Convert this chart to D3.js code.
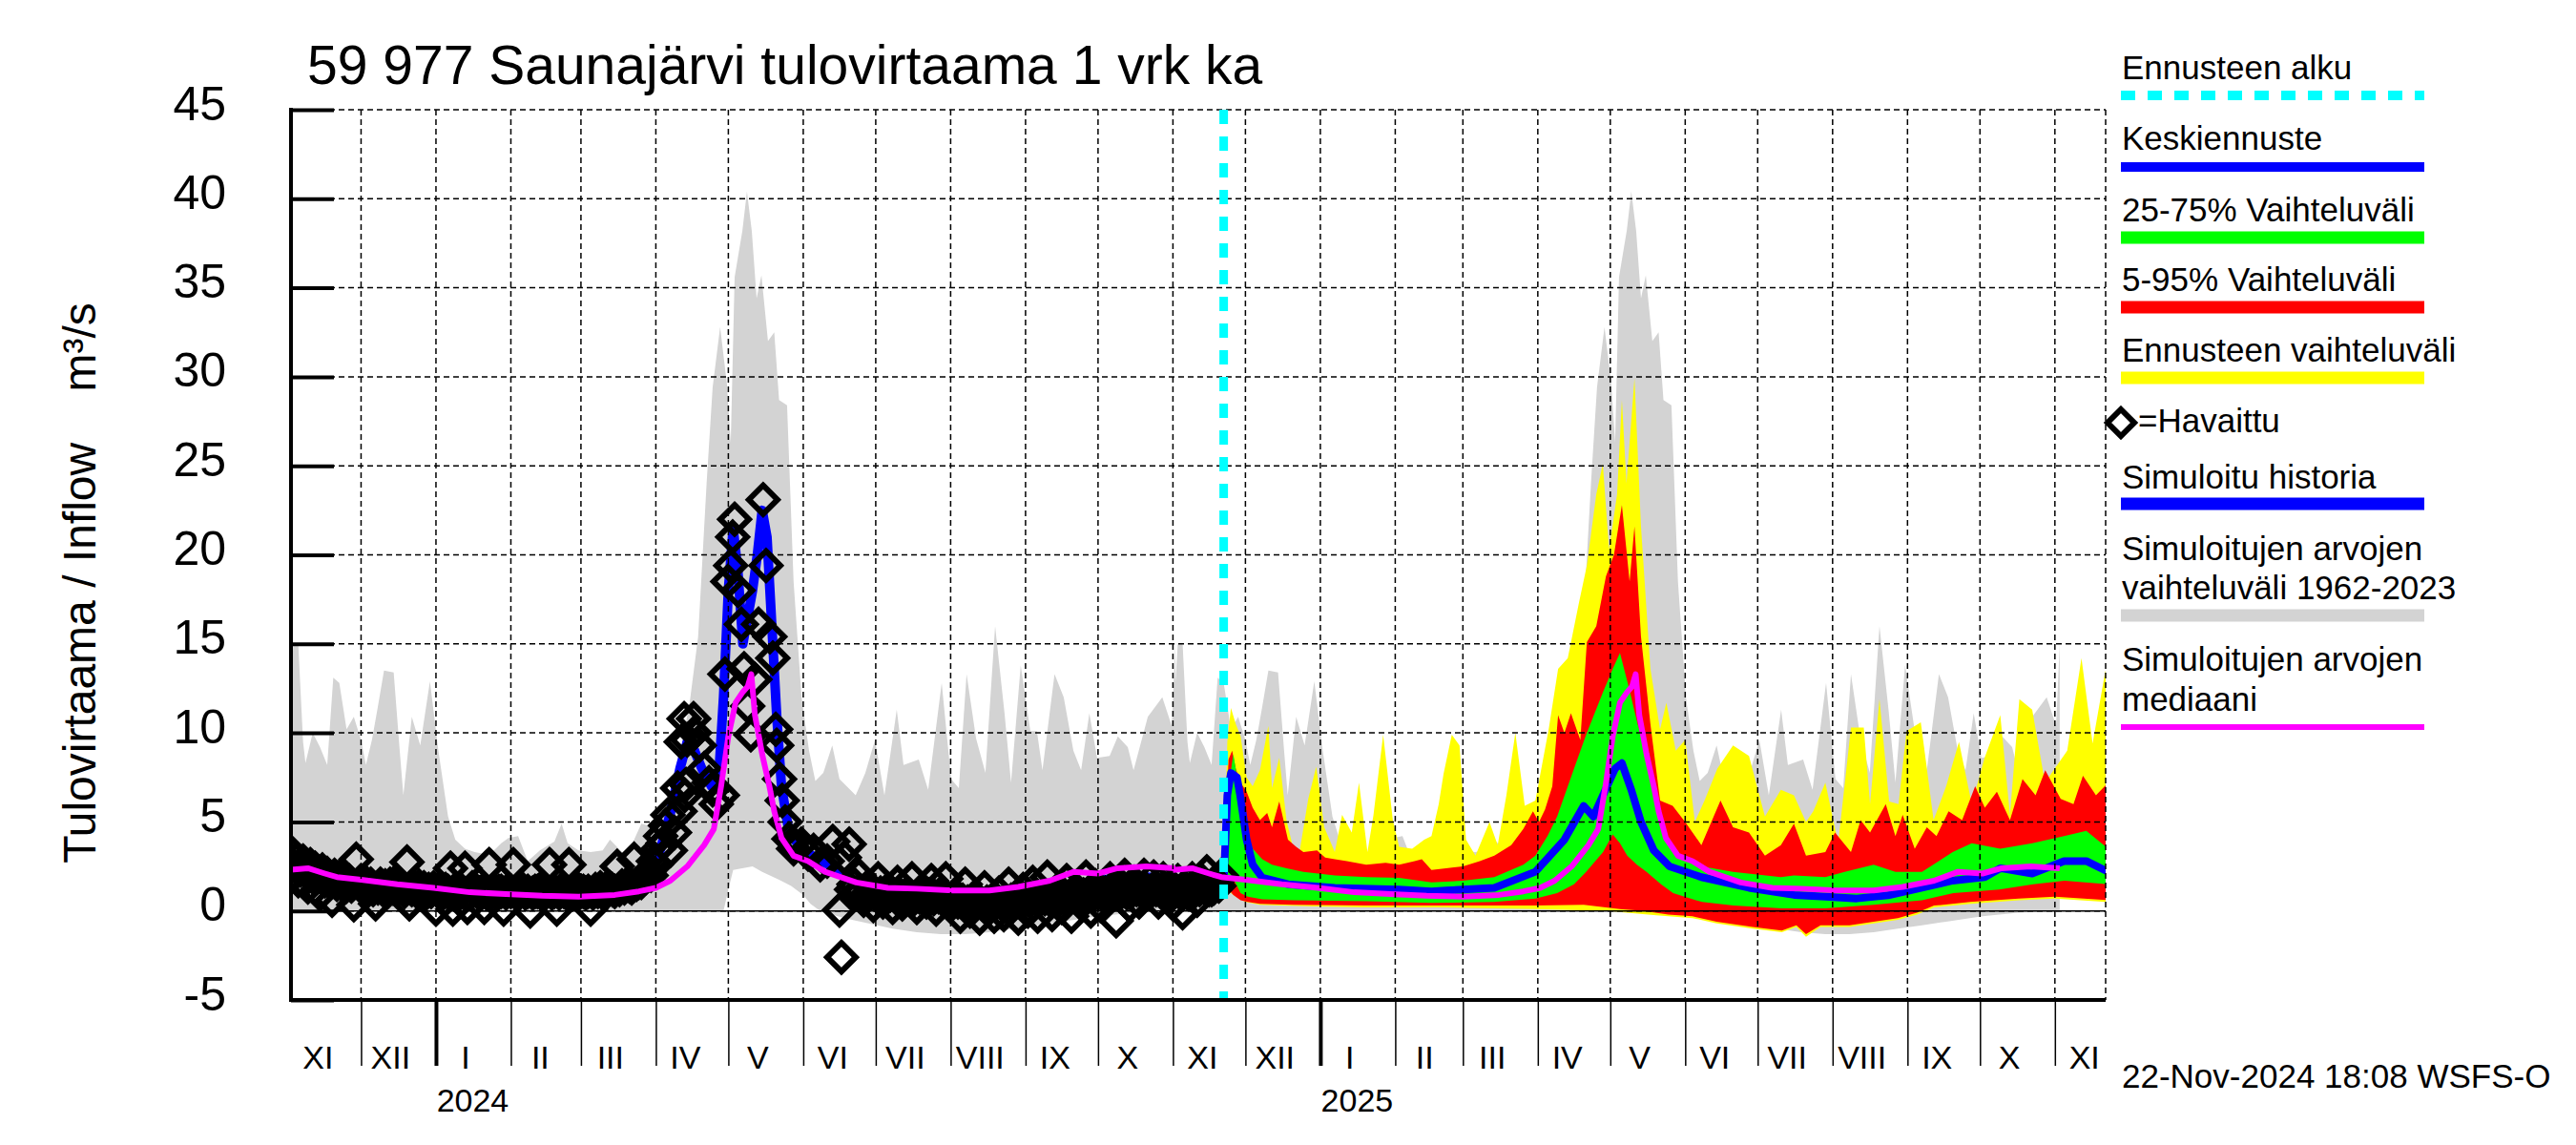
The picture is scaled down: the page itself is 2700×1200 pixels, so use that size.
<!DOCTYPE html>
<html><head><meta charset="utf-8">
<script src="https://cdn.jsdelivr.net/npm/d3@7"></script>
<style>
body{margin:0;background:#fff}
svg{display:block}
text{font-family:"Liberation Sans",Arial,Helvetica,sans-serif;fill:#000}
</style>
</head><body>
<svg id="c" width="2700" height="1200"></svg>
<script>
// ---------------- DATA ----------------
// Climatology (simulated 1962-2023), [day offset from 1 Nov, value], repeated each year
const climMax = [[0,10.5],[2,15],[4,15],[6,9.5],[7,8.3],[10,10.0],[13,9.2],[16,8.2],[18.5,13.1],[21,12.8],[24,10.2],[27,10.9],[30,9.6],[32,8.2],[34.5,9.6],[37,11.5],[39.5,13.5],[43.5,13.4],[46,9],[47.5,6.5],[51,10.9],[54.5,9.3],[58.5,12.9],[62,9.0],[66,5.3],[69,4.0],[73,3.5],[77,3.3],[81,3.2],[85,3.4],[88,3.8],[91,4.1],[95,4.2],[99,2.8],[104,3.4],[110,3.9],[113,4.9],[115.5,3.8],[120,3.4],[125,3.3],[130,3.4],[133,4.0],[138,3.3],[141,3.4],[146,4.9],[149,4.8],[153,4.7],[157,6.2],[162,8.8],[166,11.7],[169.5,15.4],[173,24.0],[175.5,29.4],[178.6,32.8],[181.4,29.6],[183,26.3],[184.6,35.6],[187.8,38.2],[189.7,40.4],[191.7,38.2],[193.7,34.4],[195.7,35.7],[198.4,32.0],[201,32.5],[203,28.7],[206.3,28.4],[209,18.5],[212.3,12.0],[215.4,9.0],[218,7.3],[221.3,7.75],[225,9.3],[228,7.4],[234.7,6.5],[238.7,7.75],[242.7,9.6],[246.6,6.5],[251.7,11.3],[254.5,8.2],[260.8,8.5],[264.7,6.8],[270.3,12.8],[274.2,7.4],[277.4,6.9],[280.6,13.3],[284.5,9.7],[288.4,7.75],[292.4,16.0],[296.3,11.1],[299,7.2],[303,13.8],[307,10.1],[309.7,10.1],[312,7.9],[317,13.3],[320.8,12.0],[324.8,9.0],[328,7.9],[331.4,11.1],[334.6,8.6],[339.8,8.7],[343.2,9.8],[347.3,9.2],[349.7,7.9],[355.6,10.9],[361.6,12.0],[365.5,10.4],[367,15]];
const climMin = [[0,0],[180,0],[182,1.2],[184,2.3],[192,2.5],[196,2.2],[203,1.75],[208,1.4],[213,0.9],[216,0.4],[220,0],[230,-0.4],[240,-0.7],[250,-1.0],[260,-1.2],[270,-1.3],[280,-1.3],[290,-1.2],[300,-1.0],[310,-0.8],[320,-0.6],[335,-0.3],[350,-0.1],[367,0]];
const climMed = [[0,2.3],[8,2.4],[15,2.1],[20,1.9],[30,1.75],[45,1.5],[60,1.3],[75,1.05],[90,0.95],[105,0.85],[120,0.8],[135,0.9],[145,1.1],[152,1.3],[158,1.7],[165,2.5],[172,3.7],[176,4.6],[179,7.0],[182,9.8],[185,11.7],[188,12.3],[190,12.6],[191.5,13.3],[193,11.0],[196,8.8],[199,7.0],[201,5.6],[204,4.1],[209,3.1],[215,2.8],[222,2.2],[235,1.6],[248,1.3],[260,1.25],[275,1.15],[290,1.15],[302,1.35],[315,1.7],[325,2.2],[335,2.1],[343,2.4],[355,2.5],[367,2.4]];

// Simulated history, [day offset from 1 Nov 2023, value]
const simHist = [[1,2.8],[10,2.2],[20,1.9],[30,1.7],[45,1.5],[60,1.4],[75,1.3],[90,1.2],[105,1.2],[120,1.2],[135,1.4],[145,1.8],[150,2.3],[154,3.5],[158,5.5],[162,8],[165,9.5],[168,9.0],[171,8.0],[175,7.0],[178,7.5],[180,12],[182,18],[184,21.5],[186,19],[188,15],[190,16.5],[192,18],[194,20],[196,22.5],[198,21],[200,16],[202,11],[204,7],[207,4.5],[212,3.5],[218,3.0],[225,2.5],[235,1.5],[245,1.0],[255,0.8],[265,0.7],[275,0.8],[290,0.9],[300,1.1],[320,1.4],[340,1.8],[355,1.9],[366,1.8],[375,1.7],[382,1.8],[386,2.0]];

// Observed, [day offset from 1 Nov 2023, value]
const observed = [[1,3.3],[2,2.0],[3,2.9],[4,1.7],[6,2.8],[8,1.35],[9,2.6],[11,2.4],[13,0.95],[14,2.3],[16,2.1],[18,0.6],[19,2.0],[21,1.9],[23,1.8],[25,1.7],[27,0.35],[28,2.9],[30,1.7],[32,1.6],[34,1.5],[36,0.4],[38,1.5],[40,1.4],[42,1.5],[44,1.6],[46,1.4],[49,2.75],[50,0.4],[52,1.3],[54,1.4],[56,1.3],[58,1.2],[61,0.1],[63,1.3],[65,1.2],[67,2.4],[68,0.1],[70,1.2],[73,2.4],[74,0.2],[76,1.3],[78,1.1],[81,0.2],[83,2.6],[85,1.2],[87,1.1],[89,0.1],[91,1.2],[93,2.6],[95,1.1],[97,1.2],[100,0.0],[102,1.1],[104,1.2],[106,1.1],[108,2.6],[111,0.1],[113,1.2],[116,2.6],[118,1.1],[120,1.2],[122,1.1],[125,0.1],[127,1.2],[129,1.3],[131,1.2],[133,1.3],[136,2.5],[138,1.4],[140,1.5],[143,2.9],[145,1.6],[147,1.8],[149,2.2],[151,2.8],[153,3.5],[154,4.2],[156,4.8],[157,5.4],[158,3.4],[159.7,4.4],[161,6.9],[162,5.6],[162.5,9.5],[163.7,10.8],[164,6.5],[164.5,7.1],[165,9.6],[167.6,10.8],[168,10.0],[170,9.3],[172,8.0],[174,7.2],[175.5,6.8],[177,6.0],[179.5,6.5],[180.6,13.3],[181.8,18.5],[183,19.4],[183.8,21.0],[184.6,22.0],[186,18.0],[187.4,16.1],[188.5,13.6],[190,11.5],[191.3,9.9],[193,13.0],[194.5,16.1],[196.4,23.1],[197.6,19.4],[199.2,15.4],[200.4,14.2],[201.6,10.2],[202,9.3],[203.2,7.4],[204.3,6.2],[205.5,5.0],[207.1,4.05],[209,3.5],[212.2,3.75],[215,3.2],[217.3,3.4],[220,2.6],[222.9,2.8],[225.2,3.9],[228,0.05],[228.8,-2.6],[230,3.0],[232,3.75],[234,1.5],[236,2.0],[238,0.6],[240,1.4],[242,0.3],[244,1.8],[246,0.5],[248,1.2],[250,0.2],[252,1.6],[254,0.4],[256,1.0],[258,1.8],[260,0.2],[262,1.1],[264,0.5],[266,1.7],[268,0.1],[270,1.0],[272,1.8],[274,0.3],[276,0.9],[278,-0.3],[280,1.5],[282,0.0],[284,0.8],[286,-0.4],[288,1.3],[290,0.2],[292,-0.3],[294,1.0],[296,-0.2],[298,1.5],[300,0.3],[302,-0.4],[304,1.2],[306,0.0],[308,1.6],[310,-0.3],[312,0.8],[314,1.9],[316,-0.2],[318,1.0],[320,0.2],[322,1.7],[324,-0.3],[326,1.2],[328,0.4],[330,1.9],[332,0.0],[334,1.4],[336,0.3],[338,1.0],[340,1.8],[342.5,-0.55],[344,1.5],[346,2.0],[348,0.3],[350,1.6],[352,0.5],[354,2.0],[356,1.0],[358,1.9],[360,0.5],[362,1.8],[364,1.2],[366,0.4],[368,1.7],[370,-0.1],[372,1.0],[374,1.8],[376,0.6],[378,1.7],[380,2.2],[382,1.2],[384,1.6],[386,2.0]];
const observedDense = [[2.5,2.5],[5,2.3],[7,2.2],[10,1.9],[12,1.9],[15,1.7],[17,1.6],[20,1.5],[22,1.5],[24,1.4],[26,1.4],[29,1.5],[31,1.3],[33,1.3],[35,1.2],[37,1.3],[39,1.2],[41,1.2],[43,1.3],[45,1.2],[47,1.3],[48,1.1],[51,1.2],[53,1.1],[55,1.2],[57,1.0],[59,1.1],[60,1.3],[62,1.1],[64,1.0],[66,1.1],[69,1.2],[71,1.0],[72,1.1],[75,1.0],[77,1.2],[79,1.0],[80,1.1],[82,1.0],[84,1.1],[86,1.0],[88,1.1],[90,1.0],[92,1.1],[94,1.0],[96,1.1],[98,1.0],[99,1.1],[101,1.0],[103,1.1],[105,1.0],[107,1.1],[109,1.0],[110,1.1],[112,1.0],[114,1.1],[115,1.0],[117,1.1],[119,1.0],[121,1.1],[123,1.0],[124,1.1],[126,1.0],[128,1.1],[130,1.0],[132,1.1],[134,1.2],[135,1.1],[137,1.2],[139,1.3],[141,1.4],[142,1.3],[144,1.5],[146,1.6],[148,1.9],[150,2.0],[152,2.6],[155,3.8],[233,1.2],[235,1.0],[237,1.1],[239,0.9],[241,1.0],[243,0.9],[245,1.0],[247,0.8],[249,0.9],[251,0.8],[253,0.9],[255,0.8],[257,0.9],[259,0.7],[261,0.8],[263,0.7],[265,0.9],[267,0.7],[269,0.8],[271,0.6],[273,0.7],[275,0.6],[277,0.5],[279,0.6],[281,0.5],[283,0.4],[285,0.5],[287,0.4],[289,0.5],[291,0.4],[293,0.5],[295,0.4],[297,0.5],[299,0.6],[301,0.5],[303,0.6],[305,0.7],[307,0.6],[309,0.7],[311,0.6],[313,0.7],[315,0.8],[317,0.7],[319,0.8],[321,0.9],[323,0.8],[325,0.9],[327,0.8],[329,0.9],[331,1.0],[333,0.9],[335,1.0],[337,0.9],[339,1.0],[341,1.1],[343,1.0],[345,1.1],[347,1.0],[349,1.1],[351,1.2],[353,1.1],[355,1.2],[357,1.1],[359,1.2],[361,1.1],[363,1.2],[365,1.1],[367,1.2],[369,1.0],[371,1.1],[373,1.2],[375,1.1],[377,1.2],[379,1.3],[381,1.2],[383,1.3],[385,1.4]];

// Forecast (from 22 Nov 2024), [day offset from 1 Nov 2024, value]
const yellowHi = [[21,2.0],[22.5,9.5],[24,11.4],[26,10.5],[28,9.8],[30.5,7.5],[33,7.0],[36,7.9],[39.5,10.4],[41,6.9],[44,8.6],[47,5.1],[49.6,3.6],[52,3.0],[56,6.3],[59.3,8.1],[62.6,4.7],[67,3.3],[70,5.4],[74,4.4],[77,7.2],[80.5,3.3],[83,5.4],[87,9.9],[91,5.1],[93.6,3.6],[99,3.5],[104,4.0],[107,4.2],[110,6.0],[112,7.7],[115.4,9.9],[118.6,9.3],[121.3,4.0],[125.2,3.1],[131,5.0],[134.4,3.7],[138,6.5],[141.7,10.0],[145.6,5.9],[150,6.2],[155.5,10.2],[159.4,13.6],[163.4,14.2],[168,17.3],[171.3,19.4],[175.2,23.4],[177.9,25.1],[180.5,20.3],[183.8,23.4],[185.8,28.7],[187.7,24.0],[191,29.9],[193.7,21.6],[197.6,13.6],[201.6,10.2],[204.2,11.7],[208.1,9.0],[212,9.6],[216,5.0],[220,6.2],[225.3,8.0],[231.8,9.3],[238.4,8.7],[245,5.3],[251.6,6.8],[257,6.5],[262,5.0],[265,5.6],[270,7.2],[275.3,3.8],[280.6,10.3],[285.9,10.3],[288.5,6.0],[292.4,11.9],[296.4,6.15],[300.3,6.0],[303.6,10.1],[309.5,10.6],[314.8,5.1],[320,7.0],[325.3,9.5],[330.6,6.0],[335.9,8.6],[342.4,11.0],[346.4,5.4],[350.3,11.9],[355.6,11.3],[360.9,7.2],[370.1,9.0],[376,14.2],[380.6,9.4],[385.9,13.5],[387,12]];
const yellowLo = [[21,1.0],[23,1.1],[26,0.8],[30,0.5],[36,0.35],[45,0.3],[60,0.25],[80,0.2],[110,0.2],[150,0.1],[180,0.0],[200,-0.25],[215,-0.4],[225,-0.7],[240,-1.0],[252,-1.2],[258,-0.9],[262,-1.45],[268,-0.9],[280,-0.9],[290,-0.7],[300,-0.5],[308,-0.2],[315,0.2],[330,0.4],[350,0.6],[365,0.7],[387,0.5]];
const redHi = [[21,1.8],[23,8.5],[24.5,9.0],[26,8.0],[28,7.2],[30.5,6.7],[33,5.8],[36,5.1],[39,5.5],[41,4.7],[44,6.15],[47.6,4.0],[51,3.6],[54,3.3],[59.6,3.4],[63,3.0],[67,2.9],[72,2.8],[80,2.6],[88,2.7],[93.6,2.6],[100,2.8],[103,2.9],[107,2.3],[113,2.4],[120,2.5],[127,2.8],[133,3.1],[140,3.7],[145,4.6],[149,5.6],[151.5,5.0],[154,5.7],[157,7.0],[159.4,11.0],[162,10.0],[164.7,11.1],[168.6,9.6],[171.3,15.1],[175.2,16.0],[179.2,18.8],[182.5,20.0],[185.8,22.8],[189,18.5],[191,21.6],[193.7,15.4],[197.6,10.5],[201.6,6.2],[206.8,5.9],[212,5.0],[218.7,3.7],[226.6,6.2],[231.8,4.7],[238.4,4.4],[245,3.1],[251.6,3.7],[257,4.9],[262,3.1],[270,3.3],[274,4.4],[280.6,3.3],[284.6,5.1],[288.5,4.4],[295,6.0],[299,4.2],[302,5.4],[307,3.5],[312,4.7],[316,4.2],[321,5.6],[326.6,5.1],[332,7.0],[336,5.8],[341,6.7],[346.4,5.1],[351.6,7.4],[357,6.5],[361,7.9],[367.4,6.3],[372.7,6.0],[376.6,7.6],[382,6.5],[387,7.2]];
const redLo = [[21,1.0],[23,1.2],[25,0.9],[28,0.6],[31,0.5],[36,0.4],[50,0.35],[80,0.3],[150,0.3],[170,0.35],[185,0.1],[195,0.0],[205,-0.2],[215,-0.3],[225,-0.6],[240,-0.9],[252,-1.1],[258,-0.8],[262,-1.3],[268,-0.8],[280,-0.8],[290,-0.6],[300,-0.4],[308,-0.1],[315,0.3],[330,0.5],[350,0.7],[365,0.8],[387,0.6]];
const greenHi = [[21,1.6],[23,7.0],[25,8.8],[27.8,6.5],[30.5,4.5],[33,3.5],[37,2.9],[41,2.6],[47,2.4],[54,2.2],[67,2.0],[80,1.9],[93.6,1.86],[107,1.6],[120,1.7],[133,1.9],[145,2.6],[150,3.1],[155,4.2],[159,5.3],[166,8.0],[171,9.9],[178,12.3],[182,13.6],[185,14.5],[188.4,12.7],[192.3,10.5],[196.3,8.7],[201.6,5.0],[206.8,3.4],[218.7,2.5],[231.8,2.2],[251.6,1.9],[257,2.0],[270,1.9],[278,2.2],[290,2.6],[299,2.2],[310,2.2],[322.7,3.3],[330.6,3.8],[342.4,3.5],[355.6,3.8],[368.8,4.2],[378,4.5],[387,3.5]];
const greenLo = [[21,1.2],[23,1.5],[25,1.8],[28,1.0],[31,0.8],[37,0.65],[50,0.6],[80,0.55],[107,0.45],[133,0.5],[150,0.7],[159,1.0],[166,1.5],[171,2.2],[178,3.3],[182,4.3],[185,3.8],[188,3.1],[192,2.6],[196,2.2],[202,1.5],[207,1.0],[219,0.5],[232,0.3],[252,0.15],[270,0.15],[290,0.35],[310,0.6],[323,1.0],[342,1.2],[356,1.5],[369,1.7],[387,1.5]];
const meanForecast = [[21,1.5],[22.5,6.5],[24,7.75],[26.5,7.5],[27.8,6.5],[30.5,4.0],[33,2.6],[37,1.86],[47.6,1.5],[67,1.3],[93.6,1.2],[107,1.1],[113,1.15],[133,1.3],[150,2.2],[162,4.0],[170,5.9],[174,5.3],[178,6.5],[183,8.0],[185.8,8.3],[189.7,6.8],[193.7,5.0],[199,3.4],[205.5,2.5],[218.7,1.9],[238.4,1.3],[257,0.9],[270,0.8],[283,0.7],[296,0.88],[310,1.3],[322.7,1.7],[336,1.9],[342.4,2.4],[355.6,2.1],[368.8,2.8],[378,2.8],[387,2.2]];

const yTicks = [-5,0,5,10,15,20,25,30,35,40,45];
const romans = ["I","II","III","IV","V","VI","VII","VIII","IX","X","XI","XII"];
const yearLabels = [2024, 2025];
const titleText = "59 977 Saunajärvi tulovirtaama 1 vrk ka";
const yTitle = "Tulovirtaama / Inflow    m³/s";
const footer = "22-Nov-2024 18:08 WSFS-O";
const forecastStart = Date.UTC(2024,10,22);
const legendItems = [
  {text:["Ennusteen alku"], color:"#00ffff", w:10, dash:"15,13"},
  {text:["Keskiennuste"], color:"#0000ff", w:10},
  {text:["25-75% Vaihteluväli"], color:"#00ff00", w:13},
  {text:["5-95% Vaihteluväli"], color:"#ff0000", w:13},
  {text:["Ennusteen vaihteluväli"], color:"#ffff00", w:13},
  {text:["=Havaittu"], marker:true},
  {text:["Simuloitu historia"], color:"#0000ff", w:13},
  {text:["Simuloitujen arvojen","vaihteluväli 1962-2023"], color:"#d3d3d3", w:13},
  {text:["Simuloitujen arvojen","mediaani"], color:"#ff00ff", w:6}
];

// ---------------- DRAW ----------------
const DAY = 864e5;
const base1 = Date.UTC(2023,10,1), base2 = Date.UTC(2024,10,1);
const L=305, R=2207, T=115, B=1048;
const FONT = '"Liberation Sans",Arial,sans-serif';
const svg = d3.select("#c");
const x = d3.scaleUtc().domain([Date.UTC(2023,10,2), Date.UTC(2025,10,22)]).range([L,R]);
const y = d3.scaleLinear().domain([-5,45]).range([B,T]);
const X = (base,d)=>x(new Date(base + d*DAY));

svg.append("defs").append("clipPath").attr("id","pc")
  .append("rect").attr("x",L).attr("y",T).attr("width",R-L).attr("height",B-T);
const plot = svg.append("g").attr("clip-path","url(#pc)");

const lineGen = base => d3.line().x(p=>X(base,p[0])).y(p=>y(p[1]));
const band = (hi, lo, base) => lineGen(base)(hi.concat(lo.slice().reverse())) + "Z";

// climatology band, both years
[base1, base2].forEach(b=>{
  plot.append("path").attr("d", band(climMax, climMin, b)).attr("fill","#d3d3d3");
});
// forecast bands
plot.append("path").attr("d", band(yellowHi, yellowLo, base2)).attr("fill","#ffff00");
plot.append("path").attr("d", band(redHi, redLo, base2)).attr("fill","#ff0000");
plot.append("path").attr("d", band(greenHi, greenLo, base2)).attr("fill","#00ff00");

// grid
const grid = svg.append("g");
yTicks.filter(v=>v>-5).forEach(v=>{
  grid.append("line").attr("x1",L).attr("x2",R).attr("y1",y(v)).attr("y2",y(v))
    .attr("stroke","#000").attr("stroke-width",1.5).attr("stroke-dasharray","6,4");
});
const months = d3.utcMonth.range(x.domain()[0], x.domain()[1]);
months.concat([x.domain()[1]]).forEach(m=>{
  grid.append("line").attr("x1",x(m)).attr("x2",x(m)).attr("y1",T).attr("y2",B)
    .attr("stroke","#000").attr("stroke-width",1.5).attr("stroke-dasharray","6,4");
});
// zero line
svg.append("line").attr("x1",L).attr("x2",R).attr("y1",y(0)).attr("y2",y(0))
  .attr("stroke","#000").attr("stroke-width",1.5);

// lines
plot.append("path").attr("d", lineGen(base1)(simHist)).attr("fill","none")
  .attr("stroke","#0000ff").attr("stroke-width",10).attr("stroke-linejoin","round");
plot.append("path").attr("d", lineGen(base2)(meanForecast)).attr("fill","none")
  .attr("stroke","#0000ff").attr("stroke-width",8).attr("stroke-linejoin","round");

// observations
const diamond = (cx,cy,r)=>`M${cx},${cy-r}L${cx+r},${cy}L${cx},${cy+r}L${cx-r},${cy}Z`;
plot.append("g").selectAll("path").data(observedDense.concat(observed)).join("path")
  .attr("d", p=>diamond(X(base1,p[0]), y(p[1]), 15))
  .attr("fill","none").attr("stroke","#000").attr("stroke-width",6);

// median
[base1, base2].forEach(b=>{
  plot.append("path").attr("d", lineGen(b)(climMed)).attr("fill","none")
    .attr("stroke","#ff00ff").attr("stroke-width",6).attr("stroke-linejoin","round");
});

// forecast start
svg.append("line").attr("x1",x(forecastStart)).attr("x2",x(forecastStart)).attr("y1",T).attr("y2",B)
  .attr("stroke","#00ffff").attr("stroke-width",9).attr("stroke-dasharray","15,13");

// axes
const yAxis = svg.append("g").attr("transform",`translate(${L},0)`)
  .call(d3.axisLeft(y).tickValues(yTicks).tickSize(-45).tickPadding(68).tickFormat(d=>String(d)));
yAxis.select(".domain").remove();
yAxis.selectAll(".tick line").attr("stroke-width",4);
yAxis.selectAll(".tick text").attr("font-size",50).attr("dy","0.2em").style("font-family",FONT);

const xAxis = svg.append("g").attr("transform",`translate(0,${B})`)
  .call(d3.axisBottom(x).tickValues(months).tickSize(69).tickFormat(""));
xAxis.select(".domain").remove();
xAxis.selectAll(".tick line").attr("stroke-width", d=>d.getUTCMonth()===0?4:1.5);

const monthStarts = [new Date(Date.UTC(2023,10,1))].concat(months);
const labelDates = monthStarts.map(m=>new Date(+m + 12*DAY)).filter(d=>x(d)<R);
const xLab = svg.append("g").attr("transform",`translate(0,${B})`)
  .call(d3.axisBottom(x).tickValues(labelDates).tickSize(0).tickPadding(48)
    .tickFormat(d=>romans[d.getUTCMonth()]));
xLab.select(".domain").remove();
xLab.selectAll("text").attr("font-size",34).style("font-family",FONT);

const yearDates = yearLabels.map(yr=>new Date(Date.UTC(yr,0,16)));
const yLab = svg.append("g").attr("transform",`translate(0,${B})`)
  .call(d3.axisBottom(x).tickValues(yearDates).tickSize(0).tickPadding(93)
    .tickFormat(d=>String(d.getUTCFullYear())));
yLab.select(".domain").remove();
yLab.selectAll("text").attr("font-size",34).style("font-family",FONT);

// frame
svg.append("line").attr("x1",L).attr("x2",L).attr("y1",T-2).attr("y2",B+2).attr("stroke","#000").attr("stroke-width",4);
svg.append("line").attr("x1",L-2).attr("x2",R).attr("y1",B).attr("y2",B).attr("stroke","#000").attr("stroke-width",4);

// title etc.
svg.append("text").attr("x",322).attr("y",88).attr("font-size",57).text(titleText);
svg.append("text").attr("transform","translate(100,611) rotate(-90)").attr("text-anchor","middle")
  .attr("font-size",48).style("white-space","pre").text(yTitle);
svg.append("text").attr("x",2224).attr("y",1140).attr("font-size",35).text(footer);

// legend
const lg = svg.append("g");
const lgX1 = 2223, lgX2 = 2541;
const rows = [
  {t:[83], ly:100},{t:[157], ly:175},{t:[232], ly:249},{t:[305], ly:322},{t:[379], ly:396},
  {t:[453], ly:null, my:443},{t:[512], ly:528},{t:[587,628], ly:645},{t:[703,745], ly:762}
];
legendItems.forEach((it,i)=>{
  const r = rows[i];
  it.text.forEach((s,j)=>{
    lg.append("text").attr("x", it.marker?2241:2224).attr("y", r.t[j]).attr("font-size",35).text(s);
  });
  if (it.marker) {
    lg.append("path").attr("d", diamond(2223, r.my, 14)).attr("fill","none").attr("stroke","#000").attr("stroke-width",6);
  } else {
    lg.append("line").attr("x1",lgX1).attr("x2",lgX2).attr("y1",r.ly).attr("y2",r.ly)
      .attr("stroke",it.color).attr("stroke-width",it.w).attr("stroke-dasharray",it.dash||null);
  }
});
</script>
</body></html>
